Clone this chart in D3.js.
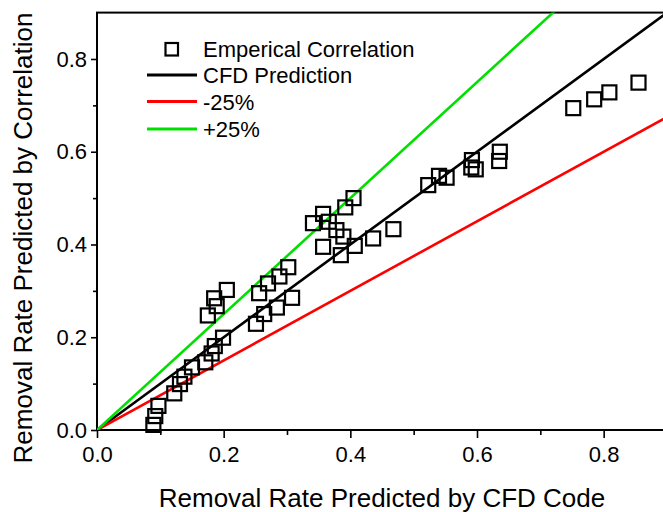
<!DOCTYPE html>
<html><head><meta charset="utf-8">
<script src="https://cdn.jsdelivr.net/npm/d3@7"></script>
<style>body{margin:0;background:#fff}svg{display:block}text{font-family:"Liberation Sans",Arial,sans-serif}</style>
</head><body><svg id="c" width="663" height="512"></svg>
<script>
const cfdX = [0.089,0.092,0.097,0.122,0.131,0.138,0.150,0.171,0.181,0.186,0.199,0.175,0.189,0.185,0.205,0.251,0.264,0.284,0.308,0.256,0.270,0.288,0.302,0.341,0.357,0.366,0.357,0.405,0.392,0.378,0.389,0.385,0.407,0.436,0.468,0.523,0.540,0.552,0.592,0.591,0.598,0.636,0.635,0.752,0.785,0.809,0.855];
const corrY = [0.011,0.030,0.052,0.079,0.099,0.115,0.135,0.146,0.165,0.181,0.199,0.247,0.267,0.284,0.302,0.229,0.250,0.264,0.285,0.295,0.316,0.331,0.351,0.446,0.466,0.449,0.395,0.500,0.480,0.431,0.417,0.377,0.397,0.413,0.433,0.528,0.548,0.544,0.582,0.566,0.562,0.600,0.580,0.694,0.713,0.728,0.749];
const lineFactors = [1.0, 0.75, 1.25];
const lineNames = ["CFD Prediction","-25%","+25%"];
const lineColors = ["#000000","#ff0000","#00e000"];
const xTicks = [0,0.2,0.4,0.6,0.8];
const yTicks = [0,0.2,0.4,0.6,0.8];
const minorTicks = [0.1,0.3,0.5,0.7];

const svg = d3.select("#c");
const x = d3.scaleLinear().domain([0,0.9]).range([97,667]);
const y = d3.scaleLinear().domain([0,0.9]).range([430,12.6]);

svg.append("rect").attr("x",x(0)).attr("y",y(0.9)).attr("width",x(0.9)-x(0)).attr("height",y(0)-y(0.9))
  .attr("fill","none").attr("stroke","#000").attr("stroke-width",2);

svg.append("clipPath").attr("id","pc").append("rect")
  .attr("x",x(0)).attr("y",y(0.9)).attr("width",x(0.9)-x(0)).attr("height",y(0)-y(0.9));

const g = svg.append("g").attr("clip-path","url(#pc)");
lineFactors.forEach((f,i)=>{
  g.append("line").attr("x1",x(0)).attr("y1",y(0)).attr("x2",x(0.9)).attr("y2",y(0.9*f))
    .attr("stroke",lineColors[i]).attr("stroke-width",2.6);
});

svg.append("g").selectAll("rect").data(cfdX.map((v,i)=>[v,corrY[i]])).join("rect")
  .attr("x",d=>x(d[0])-7).attr("y",d=>y(d[1])-7).attr("width",14).attr("height",14)
  .attr("fill","none").attr("stroke","#000").attr("stroke-width",2.2);

const xAx = svg.append("g").attr("transform",`translate(0,${y(0)})`)
  .call(d3.axisBottom(x).tickValues(xTicks).tickFormat(d3.format(".1f")).tickSize(8).tickPadding(8));
const xMin = svg.append("g").attr("transform",`translate(0,${y(0)})`)
  .call(d3.axisBottom(x).tickValues(minorTicks).tickFormat("").tickSize(5));
const yAx = svg.append("g").attr("transform",`translate(${x(0)},0)`)
  .call(d3.axisLeft(y).tickValues(yTicks).tickFormat(d3.format(".1f")).tickSize(6).tickPadding(4));
const yMin = svg.append("g").attr("transform",`translate(${x(0)},0)`)
  .call(d3.axisLeft(y).tickValues(minorTicks).tickFormat("").tickSize(4));
[xAx,xMin,yAx,yMin].forEach(a=>{
  a.select(".domain").remove();
  a.selectAll("line").attr("stroke","#000").attr("stroke-width",1.6);
  a.selectAll("text").attr("font-size",22).attr("fill","#000").style("font-family",'"Liberation Sans",Arial,sans-serif');
});

svg.append("text").attr("x",382).attr("y",507).attr("text-anchor","middle").attr("font-size",26)
  .text("Removal Rate Predicted by CFD Code");
svg.append("text").attr("transform","translate(32,238) rotate(-90)").attr("text-anchor","middle").attr("font-size",26)
  .text("Removal Rate Predicted by Correlation");

const lg = svg.append("g");
lg.append("rect").attr("x",165.5).attr("y",43).attr("width",12.5).attr("height",12.5)
  .attr("fill","none").attr("stroke","#000").attr("stroke-width",2.2);
lg.append("text").attr("x",203).attr("y",57).attr("font-size",22).text("Emperical Correlation");
const ly = [75,101.5,129];
lineNames.forEach((n,i)=>{
  lg.append("line").attr("x1",147).attr("x2",197).attr("y1",ly[i]).attr("y2",ly[i])
    .attr("stroke",lineColors[i]).attr("stroke-width",3);
  lg.append("text").attr("x",203).attr("y",ly[i]+8).attr("font-size",22).text(n);
});
</script></body></html>
